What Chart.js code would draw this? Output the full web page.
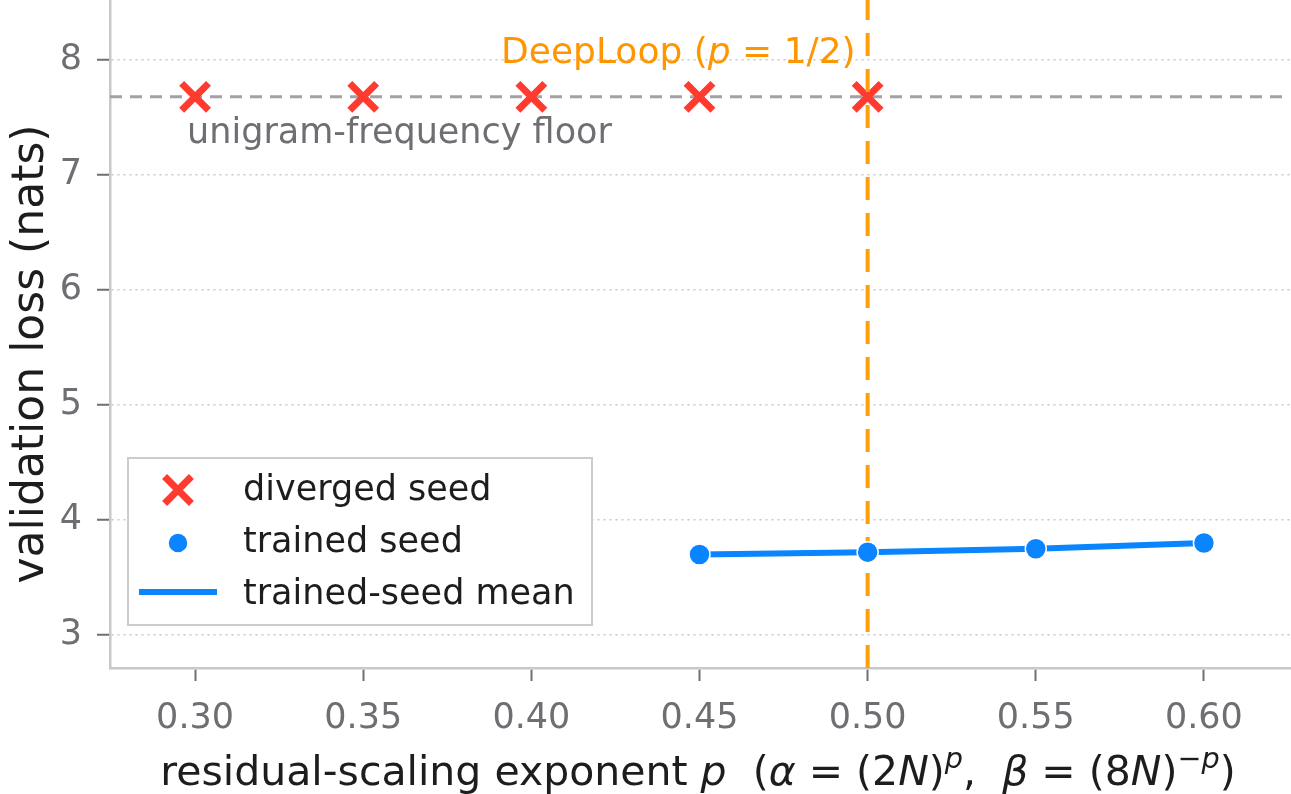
<!DOCTYPE html>
<html><head><meta charset="utf-8">
<script src="https://cdn.jsdelivr.net/npm/chart.js@4.4.1/dist/chart.umd.min.js"></script>
<style>html,body{margin:0;padding:0;background:#fff}#wrap{width:1291px;height:794px;position:relative}</style>
</head><body><div id="wrap"><canvas id="c" width="1291" height="794"></canvas></div>
<script>
// ---- data ----
const xTicks = [0.30, 0.35, 0.40, 0.45, 0.50, 0.55, 0.60];
const yTicks = [3, 4, 5, 6, 7, 8];
const divergedP = [0.30, 0.35, 0.40, 0.45, 0.50];
const divergedLoss = [7.68, 7.68, 7.68, 7.68, 7.68];
const trainedP = [0.45, 0.50, 0.55, 0.60];
const trainedLoss = [3.70, 3.72, 3.75, 3.80];
const meanLoss = [3.70, 3.72, 3.75, 3.80];
const floorLoss = 7.68;
const deepLoopP = 0.50;
const seriesLabels = ['diverged seed', 'trained seed', 'trained-seed mean'];
const floorLabel = 'unigram-frequency floor';
const yTitle = 'validation loss (nats)';

// ---- style ----
const FONT = '"DejaVu Sans", "Noto Sans", sans-serif';
const RED = '#FF3B30', BLUE = '#0A84FF', ORANGE = '#FF9F0A', ORANGE_T = '#FF9500';
const FLOORC = '#A1A1A6', GRID = '#C7C7CC', SPINE = '#C7C7CC', TICKC = '#6E6E73', TXT = '#1D1D1F';

function richWidth(ctx, parts, size) {
  let w = 0;
  for (const p of parts) { ctx.font = (p.it ? 'italic ' : '') + (size * (p.sc || 1)) + 'px ' + FONT; w += ctx.measureText(p.t).width; }
  return w;
}
function drawRich(ctx, parts, x, y, size, align) {
  const w = richWidth(ctx, parts, size);
  let cx = align === 'right' ? x - w : (align === 'center' ? x - w / 2 : x);
  ctx.textAlign = 'left'; ctx.textBaseline = 'alphabetic';
  for (const p of parts) {
    ctx.font = (p.it ? 'italic ' : '') + (size * (p.sc || 1)) + 'px ' + FONT;
    ctx.fillText(p.t, cx, y + (p.dy || 0) * size);
    cx += ctx.measureText(p.t).width;
  }
}

const overlay = {
  id: 'overlay',
  beforeDatasetsDraw(chart) {
    const {ctx, chartArea: a, scales: {y}} = chart;
    const yf = y.getPixelForValue(floorLoss);
    ctx.save();
    ctx.strokeStyle = FLOORC; ctx.lineWidth = 3; ctx.setLineDash([12, 8]);
    ctx.beginPath(); ctx.moveTo(a.left, yf); ctx.lineTo(a.right, yf); ctx.stroke();
    ctx.restore();
  },
  afterDatasetDraw(chart, args) {
    if (args.index !== 0) return;
    const {ctx, chartArea: a, scales: {x}} = chart;
    const xv = x.getPixelForValue(deepLoopP);
    ctx.save();
    ctx.strokeStyle = ORANGE; ctx.lineWidth = 4; ctx.setLineDash([23, 13]); ctx.lineDashOffset = 3;
    ctx.beginPath(); ctx.moveTo(xv, a.top); ctx.lineTo(xv, a.bottom); ctx.stroke();
    ctx.restore();
  },
  afterDatasetsDraw(chart) {
    const {ctx, scales: {x, y}} = chart;
    ctx.save();
    ctx.fillStyle = ORANGE_T;
    drawRich(ctx, [{t: 'DeepLoop ('}, {t: 'p', it: true}, {t: ' = 1/2)'}],
      x.getPixelForValue(deepLoopP) - 12, y.getPixelForValue(8) + 3, 36, 'right');
    ctx.fillStyle = '#6E6E73';
    ctx.font = '35px ' + FONT; ctx.textAlign = 'left'; ctx.textBaseline = 'alphabetic';
    ctx.fillText(floorLabel, x.getPixelForValue(xTicks[0]) - 8, y.getPixelForValue(floorLoss) + 46);
    ctx.restore();
  },
  afterDraw(chart) {
    const {ctx, chartArea: a} = chart;
    ctx.save();
    // legend
    const bx = 128, by = 458, bw = 464, bh = 167;
    ctx.fillStyle = '#FFFFFF'; ctx.fillRect(bx, by, bw, bh);
    ctx.strokeStyle = '#CCCCCC'; ctx.lineWidth = 2; ctx.strokeRect(bx, by, bw, bh);
    const mx = 178;
    ctx.strokeStyle = RED; ctx.fillStyle = RED; ctx.lineWidth = 7;
    Chart.helpers.drawPoint(ctx, {pointStyle: 'crossRot', radius: 19, rotation: 0, borderWidth: 7}, mx, 490);
    ctx.strokeStyle = '#FFFFFF'; ctx.fillStyle = BLUE; ctx.lineWidth = 1.5;
    Chart.helpers.drawPoint(ctx, {pointStyle: 'circle', radius: 10, rotation: 0, borderWidth: 1.5}, mx, 543);
    ctx.strokeStyle = BLUE; ctx.lineWidth = 6; ctx.setLineDash([]);
    ctx.beginPath(); ctx.moveTo(139, 592); ctx.lineTo(217, 592); ctx.stroke();
    ctx.fillStyle = TXT; ctx.font = '35px ' + FONT; ctx.textAlign = 'left'; ctx.textBaseline = 'alphabetic';
    ctx.fillText(seriesLabels[0], 243, 500);
    ctx.fillText(seriesLabels[1], 243, 552);
    ctx.fillText(seriesLabels[2], 243, 604);
    // x title
    ctx.fillStyle = TXT;
    const S = 0.7, UP = -0.42;
    drawRich(ctx, [
      {t: 'residual-scaling exponent '}, {t: 'p', it: true}, {t: '  ('},
      {t: '\u03B1', it: true}, {t: ' = ('}, {t: '2'}, {t: 'N', it: true}, {t: ')'},
      {t: 'p', it: true, sc: S, dy: UP}, {t: ',  '},
      {t: '\u03B2', it: true}, {t: ' = ('}, {t: '8'}, {t: 'N', it: true}, {t: ')'},
      {t: '\u2212', sc: S, dy: UP}, {t: 'p', it: true, sc: S, dy: UP}, {t: ')'}
    ], (a.left + a.right) / 2 - 2, 785, 41, 'center');
    // y title
    ctx.translate(43, 354); ctx.rotate(-Math.PI / 2);
    ctx.font = '44px ' + FONT; ctx.textAlign = 'center'; ctx.textBaseline = 'alphabetic';
    ctx.fillText(yTitle, 0, 0);
    ctx.restore();
  }
};

new Chart(document.getElementById('c'), {
  type: 'scatter',
  data: {
    datasets: [
      { label: seriesLabels[0], data: divergedP.map((v, i) => ({x: v, y: divergedLoss[i]})),
        pointStyle: 'crossRot', pointRadius: 19, pointBorderWidth: 7, borderColor: RED, backgroundColor: RED, order: 1 },
      { label: seriesLabels[1], data: trainedP.map((v, i) => ({x: v, y: trainedLoss[i]})),
        pointStyle: 'circle', pointRadius: 10.5, pointBorderWidth: 1.5, borderColor: '#FFFFFF', backgroundColor: BLUE, order: 0 },
      { label: seriesLabels[2], data: trainedP.map((v, i) => ({x: v, y: meanLoss[i]})),
        showLine: true, pointRadius: 0, borderWidth: 6, borderColor: BLUE, backgroundColor: BLUE, order: 2 }
    ]
  },
  options: {
    responsive: false, animation: false, events: [],
    layout: { autoPadding: false, padding: {left: 0, right: 1, top: 0, bottom: 0} },
    plugins: { legend: {display: false}, tooltip: {enabled: false} },
    scales: {
      x: {
        type: 'linear', min: 0.2747, max: 0.6256,
        afterBuildTicks: s => { s.ticks = xTicks.map(v => ({value: v})); },
        afterFit: s => { s.height = 126; s.paddingLeft = 0; s.paddingRight = 0; },
        ticks: { callback: v => Number(v).toFixed(2), font: {family: FONT, size: 35}, color: TICKC, padding: 17, maxRotation: 0, autoSkip: false },
        grid: { drawOnChartArea: false, drawTicks: true, tickLength: 13, tickWidth: 2, tickColor: TICKC },
        border: { display: true, color: SPINE, width: 2.5 }
      },
      y: {
        type: 'linear', min: 2.713, max: 8.522,
        afterBuildTicks: s => { s.ticks = yTicks.map(v => ({value: v})); },
        afterFit: s => { s.width = 110; s.paddingTop = 0; s.paddingBottom = 0; },
        ticks: { callback: v => String(v), font: {family: FONT, size: 35}, color: TICKC, padding: 15, autoSkip: false },
        grid: { color: GRID, lineWidth: 1.5, drawTicks: true, tickLength: 13, tickWidth: 2, tickColor: TICKC },
        border: { display: true, color: SPINE, width: 2.5, dash: [2, 4] }
      }
    }
  },
  plugins: [overlay]
});
</script></body></html>
